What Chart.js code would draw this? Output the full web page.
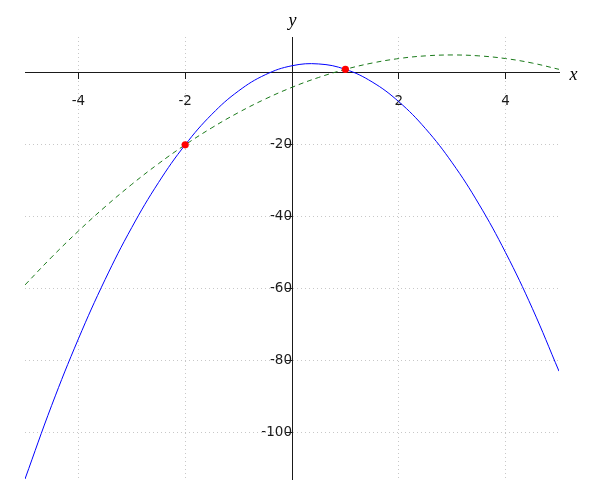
<!DOCTYPE html>
<html>
<head>
<meta charset="utf-8">
<script src="https://cdn.jsdelivr.net/npm/chart.js@4/dist/chart.umd.min.js"></script>
<style>
  html, body { margin: 0; padding: 0; background: #ffffff; }
  #wrap { width: 600px; height: 500px; }
</style>
</head>
<body>
<div id="wrap"><canvas id="c" width="600" height="500"></canvas></div>
<script>
// x positions where the curves were read
const xs = [-5, -4.5, -4, -3.5, -3, -2.5, -2, -1.5, -1, -0.5, 0, 0.5, 1, 1.5, 2, 2.5, 3, 3.5, 4, 4.5, 5];
// blue solid curve values
const blueY = [-113, -92.5, -74, -57.5, -43, -30.5, -20, -11.5, -5, -0.5, 2, 2.5, 1, -2.5, -8, -15.5, -25, -36.5, -50, -65.5, -83];
// green dashed curve values
const greenY = [-59, -51.25, -44, -37.25, -31, -25.25, -20, -15.25, -11, -7.25, -4, -1.25, 1, 2.75, 4, 4.75, 5, 4.75, 4, 2.75, 1];
// red intersection points
const ptX = [-2, 1];
const ptY = [-20, 1];
// axis ranges and tick values
const xRange = [-5, 5];
const yRange = [-113, 10];
const xTicks = [-4, -2, 0, 2, 4];
const yTicks = [-100, -80, -60, -40, -20, 0];
const axisNames = ['x', 'y'];

const toXY = (xa, ya) => xa.map((x, i) => ({x: x, y: ya[i]}));

const TEXT = '#1a1a1a';
const GRID = '#c8c8c8';

const axisLabels = {
  id: 'axisLabels',
  afterDraw(chart) {
    const ctx = chart.ctx;
    const xs_ = chart.scales.x, ys_ = chart.scales.y;
    ctx.save();
    ctx.fillStyle = '#000';
    ctx.font = 'italic 18px "Liberation Serif"';
    ctx.textAlign = 'center';
    ctx.textBaseline = 'alphabetic';
    ctx.fillText(axisNames[0], chart.chartArea.right + 14.5, ys_.getPixelForValue(0) + 7.5);
    ctx.fillText(axisNames[1], xs_.getPixelForValue(0) + 0.5, chart.chartArea.top - 11.5);
    ctx.restore();
  }
};

const tickFmt = v => (v === 0 ? '' : String(v));
const gridColor = c => (c.tick && c.tick.value === 0 ? 'rgba(0,0,0,0)' : GRID);
const setTicks = vals => scale => { scale.ticks = vals.map(v => ({value: v})); };

new Chart(document.getElementById('c'), {
  type: 'scatter',
  data: {
    datasets: [
      {
        data: toXY(ptX, ptY),
        showLine: false,
        pointRadius: 3.6,
        pointBackgroundColor: '#ff0000',
        pointBorderWidth: 0,
        pointBorderColor: '#ff0000'
      },
      {
        data: toXY(xs, blueY),
        showLine: true,
        borderColor: '#0000ff',
        borderWidth: 1,
        pointRadius: 0,
        tension: 0.4,
        fill: false
      },
      {
        data: toXY(xs, greenY),
        showLine: true,
        borderColor: '#1a7a1a',
        borderWidth: 1,
        borderDash: [5, 4],
        pointRadius: 0,
        tension: 0.4,
        fill: false
      }
    ]
  },
  options: {
    responsive: false,
    animation: false,
    devicePixelRatio: 1,
    layout: { padding: { left: 25, right: 41, top: 37, bottom: 21 } },
    plugins: { legend: { display: false }, tooltip: { enabled: false } },
    scales: {
      x: {
        type: 'linear',
        min: xRange[0], max: xRange[1],
        position: { y: 0 },
        afterBuildTicks: setTicks(xTicks),
        ticks: {
          callback: tickFmt,
          font: { family: 'DejaVu Sans', size: 13.5 }, color: TEXT, padding: 14, maxRotation: 0, autoSkip: false
        },
        grid: { color: gridColor, lineWidth: 1, tickColor: TEXT, tickLength: 6, drawTicks: true },
        border: { display: true, color: TEXT, width: 1, dash: [1, 3] }
      },
      y: {
        type: 'linear',
        min: yRange[0], max: yRange[1],
        position: { x: 0 },
        afterBuildTicks: setTicks(yTicks),
        ticks: {
          callback: tickFmt,
          font: { family: 'DejaVu Sans', size: 13.5 }, color: TEXT, padding: 1, autoSkip: false
        },
        grid: { color: gridColor, lineWidth: 1, tickColor: TEXT, tickLength: 6, drawTicks: true },
        border: { display: true, color: TEXT, width: 1, dash: [1, 3] }
      }
    }
  },
  plugins: [axisLabels]
});
</script>
</body>
</html>
